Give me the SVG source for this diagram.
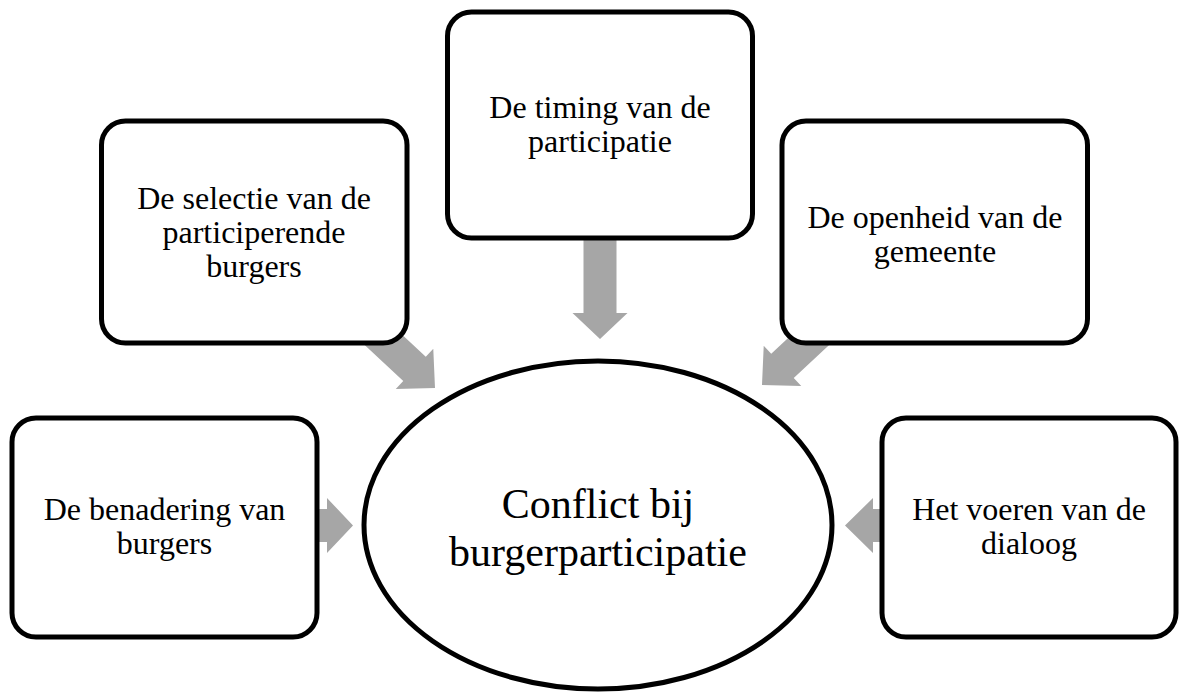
<svg xmlns="http://www.w3.org/2000/svg" width="1182" height="693" viewBox="0 0 1182 693">
<style>
.box{fill:#fff;stroke:#000;stroke-width:5}
.ell{fill:#fff;stroke:#000;stroke-width:5}
.arrow{fill:#a6a6a6;stroke:none}
.t{font-family:"Liberation Serif","Times New Roman",serif;font-size:32px;fill:#000;text-anchor:middle}
.c{font-family:"Liberation Serif","Times New Roman",serif;font-size:42px;fill:#000;text-anchor:middle}
</style>
<defs>
<polygon id="darrow" points="-90,-16.5 -28,-16.5 -28,-27.5 0,0 -28,27.5 -28,16.5 -90,16.5"/>
</defs>
<rect width="1182" height="693" fill="#fff"/>
<g id="connectors">
<polygon class="arrow" points="583.5,236 616.5,236 616.5,313 627.5,313 600,339 572.5,313 583.5,313"/>
<polygon class="arrow" points="316,509 327,509 327,498 353,525.5 327,553 327,542 316,542"/>
<polygon class="arrow" points="884,509 873,509 873,498 845,525.5 873,553 873,542 884,542"/>
<use href="#darrow" class="arrow" transform="translate(435,388) rotate(43)"/>
<use href="#darrow" class="arrow" transform="translate(762,385) rotate(137)"/>
</g>
<g id="node-center">
<ellipse class="ell" cx="598" cy="525" rx="234" ry="164"/>
<text class="c" x="598" y="518">Conflict bij</text>
<text class="c" x="598" y="566">burgerparticipatie</text>
</g>
<g id="node-top">
<rect class="box" x="447.5" y="12" width="305" height="226" rx="24"/>
<text class="t" x="600" y="118">De timing van de</text>
<text class="t" x="600" y="152">participatie</text>
</g>
<g id="node-upper-left">
<rect class="box" x="101.5" y="121" width="305.5" height="222" rx="24"/>
<text class="t" x="254" y="209">De selectie van de</text>
<text class="t" x="254" y="243">participerende</text>
<text class="t" x="254" y="277">burgers</text>
</g>
<g id="node-upper-right">
<rect class="box" x="782" y="121" width="305.5" height="222" rx="24"/>
<text class="t" x="935" y="228">De openheid van de</text>
<text class="t" x="935" y="262">gemeente</text>
</g>
<g id="node-lower-left">
<rect class="box" x="12" y="418" width="305" height="219" rx="24"/>
<text class="t" x="164.5" y="520">De benadering van</text>
<text class="t" x="164.5" y="554">burgers</text>
</g>
<g id="node-lower-right">
<rect class="box" x="882" y="418" width="294" height="219" rx="24"/>
<text class="t" x="1029" y="520">Het voeren van de</text>
<text class="t" x="1029" y="554">dialoog</text>
</g>
</svg>
